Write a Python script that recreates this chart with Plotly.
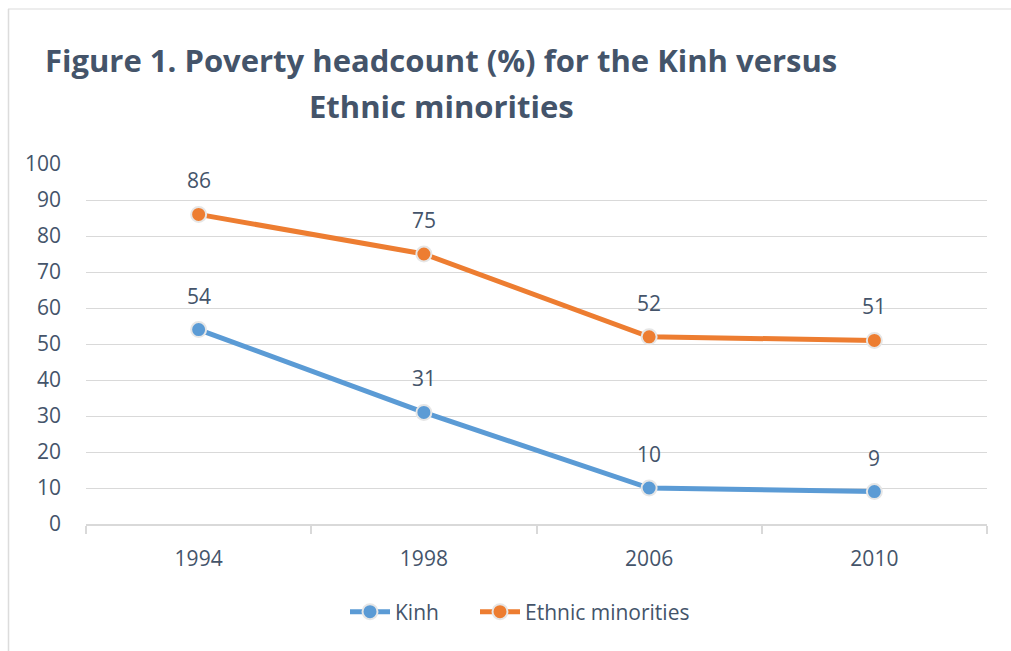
import plotly.graph_objects as go

years = ["1994", "1998", "2006", "2010"]
kinh = [54, 31, 10, 9]
ethnic = [86, 75, 52, 51]
series_names = ["Kinh", "Ethnic minorities"]
series_colors = ["#5b9bd5", "#ed7d31"]
title_lines = ["Figure 1. Poverty headcount (%) for the Kinh versus", "Ethnic minorities"]

TXT = "#44546a"
GRID = "#d9d9d9"
FONT = "'Open Sans', Lato, sans-serif"
FS = 21

W, H = 1011, 651
L, R, T, B = 86, 24, 164, 127
pw, ph = W - L - R, H - T - B

def px_x(p):
    return (p - L) / pw

def px_y(p):
    return (H - B - p) / ph

legend_ids = ["legend", "legend2"]
legend_px = [345, 475]

fig = go.Figure()
for name, vals, col, lid in zip(series_names, [kinh, ethnic], series_colors, legend_ids):
    fig.add_trace(go.Scatter(
        x=years, y=vals, name=name, mode="lines+markers", legend=lid,
        line=dict(color=col, width=5),
        marker=dict(size=15, color=col, line=dict(color="#e6e6e6", width=2)),
    ))
    for i, yv in enumerate(vals):
        fig.add_annotation(x=i, y=yv, xref="x", yref="y", text=str(yv),
                           showarrow=False, yshift=34,
                           font=dict(size=FS, color=TXT, family=FONT))

# title lines
for line, cy in zip(title_lines, [60, 106]):
    fig.add_annotation(x=px_x(441), y=px_y(cy), xref="paper", yref="paper",
                       text="<b>" + line + "</b>", showarrow=False,
                       xanchor="center", yanchor="middle",
                       font=dict(size=31, color=TXT, family=FONT))

# outer frame (top and left edges)
fig.add_shape(type="line", xref="paper", yref="paper",
              x0=px_x(8), x1=px_x(W + 5), y0=px_y(9), y1=px_y(9),
              line=dict(color="#dcdcdc", width=1.2))
fig.add_shape(type="line", xref="paper", yref="paper",
              x0=px_x(8.5), x1=px_x(8.5), y0=px_y(9), y1=px_y(H + 5),
              line=dict(color="#dcdcdc", width=1.5))

legend_common = dict(orientation="h", xanchor="left", yanchor="middle",
                     y=px_y(612), font=dict(size=FS, color=TXT),
                     itemwidth=40, bgcolor="rgba(0,0,0,0)")

fig.update_layout(
    width=W, height=H,
    margin=dict(l=L, r=R, t=T, b=B, autoexpand=False),
    paper_bgcolor="white", plot_bgcolor="white",
    font=dict(family=FONT, color=TXT, size=FS),
    showlegend=True,
    legend=dict(x=px_x(legend_px[0]), **legend_common),
    legend2=dict(x=px_x(legend_px[1]), **legend_common),
    xaxis=dict(type="category", range=[-0.5, 3.5], showgrid=False,
               showline=True, linecolor=GRID, linewidth=1.5,
               ticks="outside", tickson="boundaries", ticklen=8,
               tickcolor=GRID, tickwidth=1.5, ticklabelstandoff=15,
               tickfont=dict(size=FS, color=TXT), zeroline=False),
    yaxis=dict(range=[0, 100], dtick=10, showgrid=True, gridcolor=GRID,
               gridwidth=1.2, showline=False, zeroline=False, ticks="",
               ticklabelstandoff=24, tickfont=dict(size=FS, color=TXT)),
)

fig.write_html("out.html", config={"displayModeBar": False},
               post_script="document.body.style.margin='0';document.body.style.overflow='hidden';")
